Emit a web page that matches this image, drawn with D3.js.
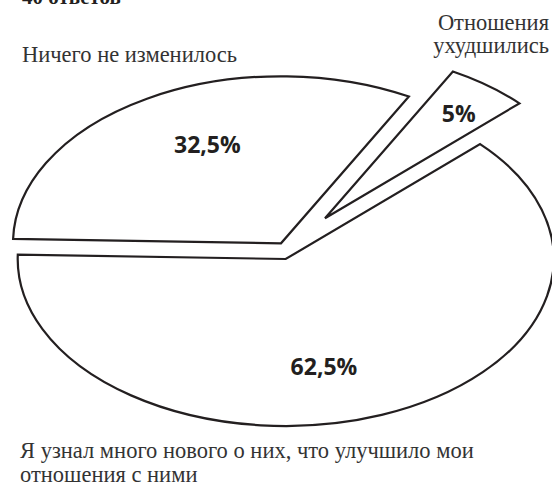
<!DOCTYPE html>
<html>
<head>
<meta charset="utf-8">
<script src="https://cdn.jsdelivr.net/npm/d3@7"></script>
<style>
  html, body { margin: 0; padding: 0; background: #fff; }
  svg { display: block; }
</style>
</head>
<body>
<svg id="chart" width="552" height="486"></svg>
<script>
"use strict";
// data
const title = "40 ответов";
const categories = [
    "Ничего не изменилось",
    "Отношения\nухудшились",
    "Я узнал много нового о них, что улучшило мои\nотношения с ними"
];
const shares = [32.5, 5, 62.5];
const valueLabels = ["32,5%", "5%", "62,5%"];

// layout
const W = 552, H = 486;
const rx = 268, ry = 167;
const center = { x: 285.7, y: 259 };
const startDeg = -88.5;
// each slice pulled out by hand, screen px
const explode = [[-4.7, -15.7], [39.3, -40.7], [0, 0]];
// value label: angle (deg, clockwise from top) and radius fraction
const labelPos = [[-25, 0.65], [38.6, 0.80], [167.5, 0.66]];
// category label placement
const catPos = [
    { x: 22, y: 61.7, anchor: "start" },
    { x: 549, y: 30, anchor: "end" },
    { x: 20, y: 458.3, anchor: "start" }
];
const lineColor = "#231f20";
const textColor = "#333";

const svg = d3.select("#chart");
const rad = d => d * Math.PI / 180;

const pie = d3.pie()
    .sort(null)
    .value(d => d)
    .startAngle(rad(startDeg))
    .endAngle(rad(startDeg + 360));
const arcs = pie(shares);

const arc = d3.arc().innerRadius(0).outerRadius(rx);

// slices: circle pie squashed into an ellipse
const G = svg.append("g");
G.selectAll("path")
    .data(arcs)
    .enter()
    .append("path")
    .attr("d", arc)
    .attr("transform", (d, i) =>
        `translate(${center.x + explode[i][0]},${center.y + explode[i][1]}) scale(1,${ry / rx})`)
    .attr("vector-effect", "non-scaling-stroke")
    .style("fill", "#fff")
    .style("stroke", lineColor)
    .style("stroke-width", 2.2)
    .style("stroke-linejoin", "miter");

// value labels
svg.append("g").selectAll("text")
    .data(arcs)
    .enter()
    .append("text")
    .attr("x", (d, i) => center.x + explode[i][0] + Math.sin(rad(labelPos[i][0])) * rx * labelPos[i][1])
    .attr("y", (d, i) => center.y + explode[i][1] - Math.cos(rad(labelPos[i][0])) * ry * labelPos[i][1])
    .attr("dy", "0.35em")
    .attr("text-anchor", "middle")
    .style("font-family", "'Open Sans', sans-serif")
    .style("font-weight", "bold")
    .style("font-size", "23px")
    .style("fill", lineColor)
    .text((d, i) => valueLabels[i]);

// category labels
const cats = svg.append("g").selectAll("text")
    .data(categories)
    .enter()
    .append("text")
    .attr("x", (d, i) => catPos[i].x)
    .attr("y", (d, i) => catPos[i].y)
    .attr("text-anchor", (d, i) => catPos[i].anchor)
    .style("font-family", "'Liberation Serif', serif")
    .style("font-size", "22.5px")
    .style("fill", textColor);
cats.each(function (d, i) {
    d3.select(this).selectAll("tspan")
        .data(d.split("\n"))
        .enter()
        .append("tspan")
        .attr("x", catPos[i].x)
        .attr("dy", (l, j) => j === 0 ? 0 : 23.4)
        .text(l => l);
});

// title, cut off by the top edge as in the source
svg.append("text")
    .attr("x", 22)
    .attr("y", 4)
    .style("font-family", "'Liberation Serif', serif")
    .style("font-weight", "bold")
    .style("font-size", "21px")
    .style("fill", lineColor)
    .text(title);
</script>
</body>
</html>
